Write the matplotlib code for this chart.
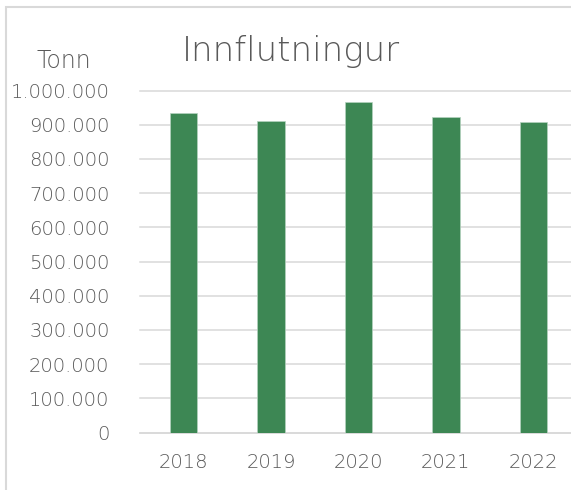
import matplotlib.pyplot as plt
from matplotlib.patches import Rectangle
from matplotlib.ticker import FuncFormatter

years = ["2018", "2019", "2020", "2021", "2022"]
tonn = [935500, 911000, 967500, 922500, 908000]
yticks = [0, 100000, 200000, 300000, 400000, 500000, 600000, 700000, 800000, 900000, 1000000]

W, H = 571, 490
text_color = "#595959"
grid_color = "#d9d9d9"
bar_color = "#3d8754"

plt.rcParams["font.family"] = ["DejaVu Sans"]
plt.rcParams["font.weight"] = "light"

fig = plt.figure(figsize=(W / 100, H / 100), dpi=100)

# chart frame
fig.patches.append(Rectangle((6 / W, -0.1), 1.2, 1 - 7 / H + 0.1, transform=fig.transFigure,
                             fill=False, edgecolor=grid_color, linewidth=1.5))

left, right = 140 / W, 577 / W
bottom, top = 1 - 432.5 / H, 1 - 90.5 / H
ax = fig.add_axes([left, bottom, right - left, top - bottom])

x = range(len(years))
ax.bar(x, tonn, width=0.315, color=bar_color, edgecolor="#b5d3bf", linewidth=0.5, zorder=3)

ax.set_xlim(-0.5, 4.5)
ax.set_ylim(0, 1000000)
ax.set_yticks(yticks)
ax.yaxis.set_major_formatter(FuncFormatter(lambda v, p: f"{int(v):,}".replace(",", ".")))
ax.set_xticks(list(x))
ax.set_xticklabels(years)

ax.grid(axis="y", color=grid_color, linewidth=1.1, zorder=0)
for gl in ax.get_ygridlines():
    gl.set_clip_on(False)
for s in ["top", "right", "left"]:
    ax.spines[s].set_visible(False)
ax.spines["bottom"].set_color(grid_color)
ax.spines["bottom"].set_linewidth(1.1)

ax.tick_params(axis="both", length=0, labelsize=14, labelcolor=text_color)
ax.tick_params(axis="y", pad=22)
ax.tick_params(axis="x", pad=15)

fig.text(291 / W, 1 - 61 / H, "Innflutningur", ha="center", va="baseline",
         fontsize=24.5, color=text_color)
fig.text(37 / W, 1 - 68 / H, "Tonn", ha="left", va="baseline",
         fontsize=17, color=text_color)

fig.savefig("out.png", dpi=100)
